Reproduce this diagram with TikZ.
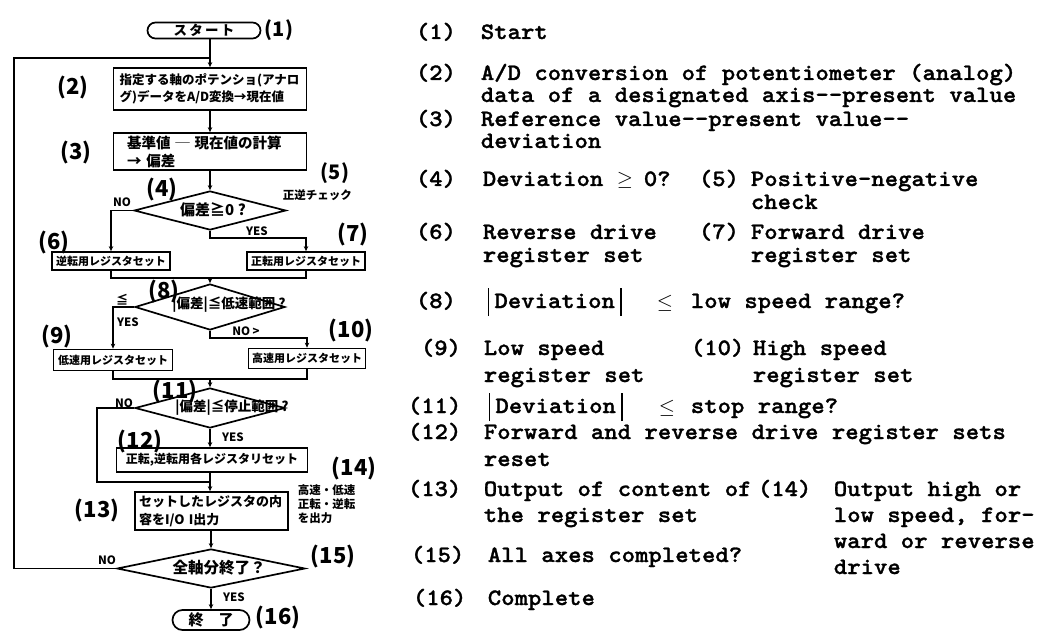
\documentclass[tikz,border=0pt]{standalone}
\usepackage{fontspec}
\usetikzlibrary{shapes.geometric,shapes.misc,arrows.meta}
\newfontfamily\jp{Noto Sans CJK JP}
\newfontfamily\tw{lmmonolt10-bold}[Extension=.otf, FakeStretch=1.085, FakeBold=1.2]
\newcommand\dvbar{\rule[-8pt]{1.6pt}{28pt}}
\newcommand\jpf[2]{\jp\bfseries\fontsize{#1}{#2}\selectfont}
\tikzset{
  box/.style={draw, rectangle, inner sep=0pt},
  term/.style={draw, rounded rectangle, inner sep=0pt},
  dia/.style={draw, diamond, inner sep=0pt},
  flow/.style={-{Stealth[length=5pt,width=4.5pt]}},
  lbl/.style={inner sep=0pt},
  num/.style={inner sep=0pt, font=\jpf{22}{22}},
  yn/.style={inner sep=0pt, font=\jpf{11.5}{12}},
  rt/.style={anchor=base west, inner sep=0pt, font=\tw\fontsize{23.5}{26}\selectfont},
}
\begin{document}
\begin{tikzpicture}[x=1pt,y=-1pt,line width=1.7pt]
\useasboundingbox (0,0) rectangle (1039,631);

% ---------------- flowchart nodes ----------------
\node[term, minimum width=113pt, minimum height=16pt, font=\jpf{13.5}{14}] (start) at (204,30.5) {ス\,タ\,ー\,ト};
\node[box, minimum width=193pt, minimum height=42pt, text width=181pt, align=left, font=\jpf{12.5}{17}] (b2) at (210,89) {指定する軸のポテンショ(アナロ\\グ)データをA/D変換→現在値};
\node[box, minimum width=193pt, minimum height=37pt, text width=166pt, align=left, font=\jpf{14.5}{18}] (b3) at (210,151.5) {基準値 ─ 現在値の計算\\→ 偏差};
\node[dia, minimum width=152pt, minimum height=39pt] (d4) at (210,210.5) {};
\node[lbl, font=\jpf{15}{15}] (t4) at (213,210) {偏差≧0 ?};
\node[box, minimum width=118pt, minimum height=18pt, font=\jpf{11}{11}] (b6) at (111,261) {逆転用レジスタセット};
\node[box, minimum width=118pt, minimum height=18pt, font=\jpf{11}{11}] (b7) at (306,261) {正転用レジスタセット};
\node[dia, minimum width=150pt, minimum height=46pt] (d8) at (210,307) {};
\node[lbl, font=\jpf{13.5}{14}] (t8) at (229,305) {|偏差|≦低速範囲 ?};
\node[box, minimum width=119pt, minimum height=21pt, font=\jpf{11}{11}] (b9) at (113,360) {低速用レジスタセット};
\node[box, minimum width=117pt, minimum height=20pt, font=\jpf{11}{11}] (b10) at (307,358.5) {高速用レジスタセット};
\node[dia, minimum width=150pt, minimum height=40pt] (d11) at (210,408) {};
\node[lbl, font=\jpf{13.5}{14}] (t11) at (232,408) {|偏差|≦停止範囲 ?};
\node[box, minimum width=191pt, minimum height=24pt, font=\jpf{12}{12}] (b12) at (212,460) {正転,逆転用各レジスタリセット};
\node[box, minimum width=153pt, minimum height=38pt, text width=145pt, align=left, font=\jpf{13}{18}] (b13) at (211.5,511) {セットしたレジスタの内\\容をI/O I出力};
\node[dia, minimum width=188pt, minimum height=39pt] (d15) at (211,568.5) {};
\node[lbl, font=\jpf{15.5}{16}] (t15) at (219,568) {全軸分終了？};
\node[term, minimum width=77pt, minimum height=20pt, font=\jpf{15}{15}] (end) at (211,620) {終　了};

% ---------------- connectors ----------------
\coordinate (lp) at (14,58);
\coordinate (m1) at (210,278);
\coordinate (m2) at (210,379);
\coordinate (m3) at (210,482);
\coordinate (nl) at (97,408);

\draw[flow] (start.south -| b2.north) -- (b2.north);
\draw[flow] (b2) -- (b3);
\draw[flow] (b3) -- (d4);
\draw[flow] (d4.west) -| (b6.north);
\draw[flow] (d4.south) -- ++(0,7.5) -| (b7.north);
\draw (b6.south) |- (m1);
\draw (b7.south) |- (m1);
\draw[flow] (m1) -- (d8.north);
\draw[flow] (d8.west) -| (b9.north);
\draw[flow] (d8.south) -- ++(0,7) -| (b10.north);
\draw (b9.south) |- (m2);
\draw (b10.south) |- (m2);
\draw[flow] (m2) -- (d11.north);
\draw[flow] (d11.south) -- (d11.south |- b12.north);
\draw (d11.west) -- (nl) |- (m3);
\draw[flow] (b12.south -| m3) -- (b13.north -| m3);
\draw[flow] (b13.south -| d15.north) -- (d15.north);
\draw[flow] (d15.south) -- (d15.south |- end.north);
\draw (d15.west) -| (lp) -- (lp -| b2.north);

% ---------------- flowchart labels ----------------
\node[num, font=\jpf{20}{20}] (L1) at (279,30) {(1)};
\node[num] (L2) at (73,88) {(2)};
\node[num] (L3) at (76,153) {(3)};
\node[num] (L4) at (162,190) {(4)};
\node[num, font=\jpf{20}{20}] (L5) at (335,173) {(5)};
\node[lbl, anchor=west, font=\jpf{11.5}{12}] (chk) at (282,195) {正逆チェック};
\node[num] (L6) at (54,243) {(6)};
\node[num] (L7) at (353,235) {(7)};
\node[num] (L8) at (164,292) {(8)};
\node[num] (L9) at (57,337) {(9)};
\node[num] (L10) at (351,331) {(10)};
\node[num] (L11) at (175,392) {(11)};
\node[num] (L12) at (140,442) {(12)};
\node[num] (L13) at (97,511) {(13)};
\node[num] (L14) at (354,469) {(14)};
\node[lbl, anchor=west, align=left, font=\jpf{11.5}{14}] (out) at (297,504) {高速・低速\\正転・逆転\\を出力};
\node[num] (L15) at (333,557) {(15)};
\node[num] (L16) at (278,617) {(16)};

\node[yn] (y4) at (257,231) {YES};
\node[yn] (n4) at (122,202) {NO};
\node[yn, font=\jpf{12}{12}] (le8) at (122,300) {≦};
\node[yn] (y8) at (128,322) {YES};
\node[yn] (n8) at (246,331) {NO >};
\node[yn] (n11) at (124,403) {NO};
\node[yn] (y11) at (233,437) {YES};
\node[yn] (n15) at (107,560) {NO};
\node[yn] (y15) at (234,597) {YES};

% ---------------- right-hand legend ----------------
\node[rt] (r1n) at (415,39) {(1)};
\node[rt] (r1) at (480,39) {Start};
\node[rt] (r2n) at (415,80) {(2)};
\node[rt] (r2a) at (480,80) {A/D conversion of potentiometer (analog)};
\node[rt] (r2b) at (480,102) {data of a designated axis-{}-present value};
\node[rt] (r3n) at (415,126) {(3)};
\node[rt] (r3a) at (480,126) {Reference value-{}-present value-{}-};
\node[rt] (r3b) at (480,148) {deviation};
\node[rt] (r4n) at (415,186) {(4)};
\node[rt] (r4a) at (482,186) {Deviation};
\node[rt, font=\fontsize{20}{20}\selectfont] (r4b) at (616,186) {$\geq$};
\node[rt] (r4c) at (643,186) {0?};
\node[rt] (r5n) at (698,186) {(5)};
\node[rt] (r5a) at (750,186) {Positive-negative};
\node[rt] (r5b) at (750,209) {check};
\node[rt] (r6n) at (415,239) {(6)};
\node[rt] (r6a) at (482,239) {Reverse drive};
\node[rt] (r6b) at (482,262) {register set};
\node[rt] (r7n) at (698,239) {(7)};
\node[rt] (r7a) at (750,239) {Forward drive};
\node[rt] (r7b) at (750,262) {register set};
\node[rt] (r8n) at (415,308) {(8)};
\node[rt] (r8a) at (487,308) {\dvbar\hspace{5pt}Deviation\hspace{5pt}\dvbar};
\node[rt, font=\fontsize{20}{20}\selectfont] (r8b) at (656,308) {$\leq$};
\node[rt] (r8c) at (690,308) {low speed range?};
\node[rt] (r9n) at (420,355) {(9)};
\node[rt] (r9a) at (483,355) {Low speed};
\node[rt] (r9b) at (483,382) {register set};
\node[rt] (r10n) at (690,355) {(10)};
\node[rt] (r10a) at (752,355) {High speed};
\node[rt] (r10b) at (752,382) {register set};
\node[rt] (r11n) at (407,413) {(11)};
\node[rt] (r11a) at (488,413) {\dvbar\hspace{5pt}Deviation\hspace{5pt}\dvbar};
\node[rt, font=\fontsize{20}{20}\selectfont] (r11b) at (658,413) {$\leq$};
\node[rt] (r11c) at (690,413) {stop range?};
\node[rt] (r12n) at (407,439) {(12)};
\node[rt] (r12a) at (483,439) {Forward and reverse drive register sets};
\node[rt] (r12b) at (483,466) {reset};
\node[rt] (r13n) at (407,496) {(13)};
\node[rt] (r13a) at (483,496) {Output of content of};
\node[rt] (r13b) at (483,522) {the register set};
\node[rt] (r14n) at (757,496) {(14)};
\node[rt] (r14a) at (833,496) {Output high or};
\node[rt] (r14b) at (833,522) {low speed, for-};
\node[rt] (r14c) at (833,548) {ward or reverse};
\node[rt] (r14d) at (833,574) {drive};
\node[rt] (r15n) at (410,562) {(15)};
\node[rt] (r15a) at (487,562) {All axes completed?};
\node[rt] (r16n) at (412,605) {(16)};
\node[rt] (r16a) at (487,605) {Complete};
\end{tikzpicture}
\end{document}
